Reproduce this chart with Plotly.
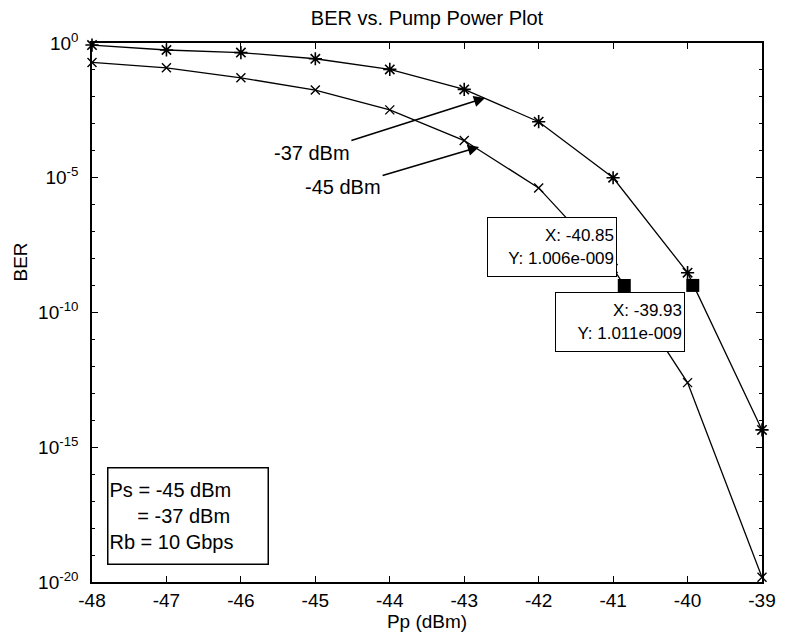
import math
import plotly.graph_objects as go

# ---- data ----
pump_power = [-48, -47, -46, -45, -44, -43, -42, -41, -40, -39]
ber_ps_37 = [0.84, 0.55, 0.44, 0.26, 0.105, 0.019, 1.2e-3, 1.0e-5, 3.0e-9, 4.4e-15]
ber_ps_45 = [0.19, 0.12, 0.051, 0.018, 3.3e-3, 2.4e-4, 4.2e-6, 4.3e-9, 2.5e-13, 1.5e-20]

tip_x = [-40.85, -39.93]
tip_y = [1.006e-9, 1.011e-9]
tip_text = ["X: -40.85<br>Y: 1.006e-009", "X: -39.93<br>Y: 1.011e-009"]

y_tick_vals = [1, 1e-5, 1e-10, 1e-15, 1e-20]
y_tick_text = ["10<sup>0</sup>", "10<sup>-5</sup>", "10<sup>-10</sup>", "10<sup>-15</sup>", "10<sup>-20</sup>"]
y_minor_vals = [10.0 ** -k for k in range(21)]
x_tick_vals = pump_power
x_tick_text = ["-48", "-47", "-46", "-45", "-44", "-43", "-42", "-41", "-40", "-39"]

arrow_labels = ["-37 dBm", "-45 dBm"]
arrow_tip_x = [-42.72, -42.80]
arrow_tip_y = [10 ** -2.04, 10 ** -3.86]

FONT = "Liberation Sans, Arial, Helvetica, sans-serif"
PLOT_W = 788 - 92 - 12

fig = go.Figure()

fig.add_trace(go.Scatter(
    x=pump_power, y=ber_ps_37, mode="lines+markers",
    line=dict(color="black", width=1.3),
    marker=dict(symbol="asterisk-open", size=11, color="black", line=dict(width=1.6, color="black")),
    cliponaxis=False, showlegend=False, hoverinfo="skip"))

fig.add_trace(go.Scatter(
    x=pump_power, y=ber_ps_45, mode="lines+markers",
    line=dict(color="black", width=1.3),
    marker=dict(symbol="x-thin-open", size=9, color="black", line=dict(width=1.4, color="black")),
    cliponaxis=False, showlegend=False, hoverinfo="skip"))

fig.add_trace(go.Scatter(
    x=tip_x, y=tip_y, mode="markers",
    marker=dict(symbol="square", size=13, color="black"),
    cliponaxis=False, showlegend=False, hoverinfo="skip"))

annotations = []
# datatip boxes
annotations.append(dict(
    x=tip_x[0], y=math.log10(tip_y[0]), xref="x", yref="y",
    text=tip_text[0], showarrow=False, xanchor="right", yanchor="bottom",
    xshift=-7, yshift=8, align="right", width=124, height=54,
    bordercolor="black", borderwidth=1, borderpad=2, bgcolor="white",
    font=dict(family=FONT, size=17, color="black")))
annotations.append(dict(
    x=tip_x[1], y=math.log10(tip_y[1]), xref="x", yref="y",
    text=tip_text[1], showarrow=False, xanchor="right", yanchor="top",
    xshift=-8, yshift=-7, align="right", width=124, height=54,
    bordercolor="black", borderwidth=1, borderpad=2, bgcolor="white",
    font=dict(family=FONT, size=17, color="black")))

# arrows with labels
arrow_offsets = [(-173, 55), (-136, 40)]
for lab, tx, ty, (ax, ay) in zip(arrow_labels, arrow_tip_x, arrow_tip_y, arrow_offsets):
    annotations.append(dict(
        x=tx, y=math.log10(ty), xref="x", yref="y",
        text=lab, showarrow=True, ax=ax, ay=ay,
        arrowhead=2, arrowsize=1.4, arrowwidth=1.6, arrowcolor="black",
        font=dict(family=FONT, size=20, color="black")))

# parameter box
nb = "\u00a0"
annotations.append(dict(
    x=(107 - 92) / PLOT_W, y=(582 - 565) / 539, xref="paper", yref="paper",
    text=f"Ps = -45 dBm<br>{nb*5}= -37 dBm<br>Rb = 10 Gbps",
    showarrow=False, xanchor="left", yanchor="bottom", align="left",
    width=157, height=93, valign="middle",
    bordercolor="black", borderwidth=1.5, borderpad=1, bgcolor="white",
    font=dict(family=FONT, size=20, color="black")))

# y label
annotations.append(dict(
    x=(18 - 92) / PLOT_W, y=(582 - 262) / 539, xref="paper", yref="paper",
    xanchor="center", yanchor="middle",
    text="BER", showarrow=False, textangle=-90,
    font=dict(family=FONT, size=19, color="black")))

fig.update_layout(
    width=788, height=640,
    margin=dict(l=92, r=12, t=43, b=58),
    paper_bgcolor="white", plot_bgcolor="white",
    font=dict(family=FONT, size=19, color="black"),
    title=dict(text="BER vs. Pump Power Plot", x=0.5, xref="paper",
               y=1 - 18 / 640, yref="container", yanchor="middle",
               font=dict(family=FONT, size=20, color="black")),
    annotations=annotations,
)

fig.update_xaxes(
    range=[-48, -39], tickvals=x_tick_vals, ticktext=x_tick_text,
    ticks="inside", ticklen=6,
    tickcolor="black", showline=True, linecolor="black", linewidth=1.5,
    mirror="ticks", showgrid=False, zeroline=False, ticklabeloverflow="allow",
    tickfont=dict(family=FONT, size=19, color="black"),
    title=dict(text="Pp (dBm)", font=dict(family=FONT, size=19, color="black"), standoff=2),
)

fig.update_yaxes(
    type="log", range=[-20, 0], tickvals=y_tick_vals, ticktext=y_tick_text,
    ticks="inside", ticklen=6, tickcolor="black",
    minor=dict(ticks="inside", ticklen=3, tickmode="array", tickvals=y_minor_vals,
               tickcolor="black", showgrid=False),
    showline=True, linecolor="black", linewidth=1.5, mirror="ticks",
    showgrid=False, zeroline=False, ticklabelstandoff=8, ticklabeloverflow="allow",
    tickfont=dict(family=FONT, size=19, color="black"),
)

fig.write_html("out.html",
               config={"displayModeBar": False},
               post_script="document.body.style.margin='0';document.body.style.overflow='hidden';")
